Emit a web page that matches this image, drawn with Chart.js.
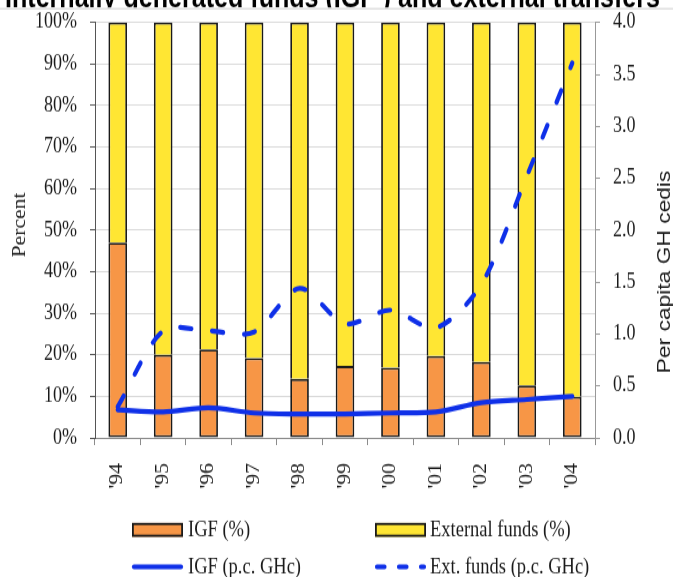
<!DOCTYPE html>
<html>
<head>
<meta charset="utf-8">
<script src="https://cdn.jsdelivr.net/npm/chart.js@4/dist/chart.umd.min.js"></script>
<style>
  html, body { margin: 0; padding: 0; background: #ffffff; overflow: hidden; }
  #chart { display: block; }
</style>
</head>
<body>
<!-- the drawing surface is rendered short and shown taller, giving the tall serif lettering -->
<canvas id="chart" width="673" height="481" style="width:673px;height:577px"></canvas>
<script>
// ---- data ----
const years = ["'94", "'95", "'96", "'97", "'98", "'99", "'00", "'01", "'02", "'03", "'04"];
const igfShare = [47, 20, 21.3, 19.2, 14.2, 17.3, 16.9, 19.7, 18.3, 12.6, 9.9];
const extShare = [53, 80, 78.7, 80.8, 85.8, 82.7, 83.1, 80.3, 81.7, 87.4, 90.1];
const igfPerCapita = [0.27, 0.25, 0.29, 0.24, 0.23, 0.23, 0.24, 0.25, 0.34, 0.37, 0.40];
const extPerCapita = [0.30, 1.03, 1.03, 1.02, 1.44, 1.10, 1.23, 1.06, 1.48, 2.52, 3.61];
const percentTicks = ['0%', '10%', '20%', '30%', '40%', '50%', '60%', '70%', '80%', '90%', '100%'];
const cediTicks = ['0.0', '0.5', '1.0', '1.5', '2.0', '2.5', '3.0', '3.5', '4.0'];

const TITLE = 'Internally generated funds (IGF ) and external transfers';
const SERIES = ['IGF (%)', 'External funds (%)', 'IGF (p.c. GHc)', 'Ext. funds (p.c. GHc)'];

const ORANGE = '#F79646';
const YELLOW = '#FFE633';
const BLUE = '#0F30E8';
const INK = '#1a1a1a';
const SERIF = '"Liberation Serif", "Times New Roman", serif';
const SANS = '"Liberation Sans", Arial, sans-serif';

// titles, separator and the two-column legend
const decorations = {
  id: 'decorations',
  afterDraw(chart) {
    const ctx = chart.ctx;
    const W = chart.width;

    // heading strip
    ctx.save();
    ctx.beginPath();
    ctx.rect(0, 0, W, 6.3);
    ctx.clip();
    ctx.font = 'bold 20px ' + SANS;
    const size = 20 * 655 / ctx.measureText(TITLE).width;
    ctx.font = 'bold ' + size.toFixed(2) + 'px ' + SANS;
    ctx.fillStyle = '#000';
    ctx.textAlign = 'left';
    ctx.textBaseline = 'alphabetic';
    ctx.fillText(TITLE, 5, 5.9);
    ctx.restore();

    ctx.save();
    ctx.strokeStyle = '#d0d0d0';
    ctx.lineWidth = 1;
    ctx.beginPath();
    ctx.moveTo(0, 7.2);
    ctx.lineTo(W, 7.2);
    ctx.stroke();
    ctx.restore();

    // axis titles
    ctx.save();
    ctx.fillStyle = INK;
    ctx.textAlign = 'center';
    ctx.textBaseline = 'alphabetic';
    ctx.font = '18px ' + SERIF;
    ctx.translate(25, 187.5);
    ctx.rotate(-Math.PI / 2);
    ctx.fillText('Percent', 0, 0);
    ctx.restore();

    ctx.save();
    ctx.fillStyle = INK;
    ctx.textAlign = 'center';
    ctx.textBaseline = 'alphabetic';
    ctx.font = '19px ' + SANS;
    ctx.translate(670, 226.7);
    ctx.rotate(-Math.PI / 2);
    ctx.fillText('Per capita GH cedis', 0, 0);
    ctx.restore();

    // legend
    const row1 = 441.7, row2 = 472.5;
    const col1 = 132, col2 = 375, sw = 51;
    ctx.save();
    ctx.lineWidth = 1.8;
    ctx.strokeStyle = INK;
    ctx.fillStyle = ORANGE;
    ctx.fillRect(col1, row1 - 5.8, sw, 11.6);
    ctx.strokeRect(col1 + 0.9, row1 - 4.9, sw - 1.8, 9.8);
    ctx.fillStyle = YELLOW;
    ctx.fillRect(col2, row1 - 5.8, sw, 11.6);
    ctx.strokeRect(col2 + 0.9, row1 - 4.9, sw - 1.8, 9.8);

    ctx.strokeStyle = BLUE;
    ctx.lineWidth = 4.2;
    ctx.lineCap = 'round';
    ctx.beginPath();
    ctx.moveTo(col1 + 2, row2);
    ctx.lineTo(col1 + sw - 2, row2);
    ctx.stroke();
    ctx.setLineDash([7.5, 14.5]);
    ctx.beginPath();
    ctx.moveTo(col2 + 2, row2);
    ctx.lineTo(col2 + sw - 2, row2);
    ctx.stroke();
    ctx.setLineDash([]);

    ctx.fillStyle = INK;
    ctx.font = '18.5px ' + SERIF;
    ctx.textAlign = 'left';
    ctx.textBaseline = 'middle';
    ctx.fillText(SERIES[0], col1 + sw + 5, row1 + 0.5);
    ctx.fillText(SERIES[1], col2 + sw + 4, row1 + 0.5);
    ctx.fillText(SERIES[2], col1 + sw + 5, row2 + 0.5);
    ctx.fillText(SERIES[3], col2 + sw + 4, row2 + 0.5);
    ctx.restore();
  }
};

const tickFont = { family: SERIF, size: 18 };

// fixed side widths; the end labels may overhang the plot area
function fixVertical(width) {
  return function (scale) {
    scale.width = width;
    scale.paddingTop = 6;
    scale.paddingBottom = 6;
  };
}

new Chart(document.getElementById('chart'), {
  data: {
    labels: years,
    datasets: [
      {
        type: 'bar', label: SERIES[0], data: igfShare,
        backgroundColor: ORANGE, borderColor: INK, borderWidth: 1.8, borderSkipped: false,
        yAxisID: 'y', stack: 'share', order: 2,
        barPercentage: 0.41, categoryPercentage: 1
      },
      {
        type: 'bar', label: SERIES[1], data: extShare,
        backgroundColor: YELLOW, borderColor: INK, borderWidth: 1.8, borderSkipped: 'start',
        yAxisID: 'y', stack: 'share', order: 2,
        barPercentage: 0.41, categoryPercentage: 1
      },
      {
        type: 'line', label: SERIES[2], data: igfPerCapita,
        yAxisID: 'y1', stack: 'igf', order: 1,
        borderColor: BLUE, borderWidth: 4.2, borderCapStyle: 'round', borderJoinStyle: 'round',
        pointRadius: 0, tension: 0.3, fill: false
      },
      {
        type: 'line', label: SERIES[3], data: extPerCapita,
        yAxisID: 'y1', stack: 'ext', order: 1,
        borderColor: BLUE, borderWidth: 4.2, borderCapStyle: 'round', borderJoinStyle: 'round',
        borderDash: [11, 21],
        pointRadius: 0, tension: 0.3, fill: false
      }
    ]
  },
  options: {
    responsive: false,
    maintainAspectRatio: false,
    animation: false,
    devicePixelRatio: 1,
    layout: { padding: { left: 0, right: 0, top: 18.75, bottom: 56 } },
    plugins: { legend: { display: false }, tooltip: { enabled: false } },
    scales: {
      x: {
        stacked: true,
        offset: true,
        grid: { display: true, drawOnChartArea: false, offset: true, tickLength: 6, tickColor: '#8c8c8c' },
        border: { color: '#8c8c8c', width: 1 },
        ticks: { minRotation: 90, maxRotation: 90, autoSkip: false, padding: 15, color: INK, font: tickFont },
        afterFit(scale) { scale.height = 60; }
      },
      y: {
        position: 'left',
        stacked: true,
        min: 0, max: 100,
        ticks: { stepSize: 10, padding: 13, color: INK, font: tickFont, callback: (v, i) => percentTicks[i] },
        grid: { color: '#d9d9d9', lineWidth: 1, tickLength: 5, tickColor: '#555' },
        border: { color: '#555', width: 1 },
        afterFit: fixVertical(95)
      },
      y1: {
        position: 'right',
        stacked: false,
        min: 0, max: 4,
        ticks: { stepSize: 0.5, padding: 13, color: INK, font: tickFont, callback: (v, i) => cediTicks[i] },
        grid: { drawOnChartArea: false, tickLength: 5, tickColor: '#999' },
        border: { color: '#999', width: 1 },
        afterFit: fixVertical(78)
      }
    }
  },
  plugins: [decorations]
});
</script>
</body>
</html>
